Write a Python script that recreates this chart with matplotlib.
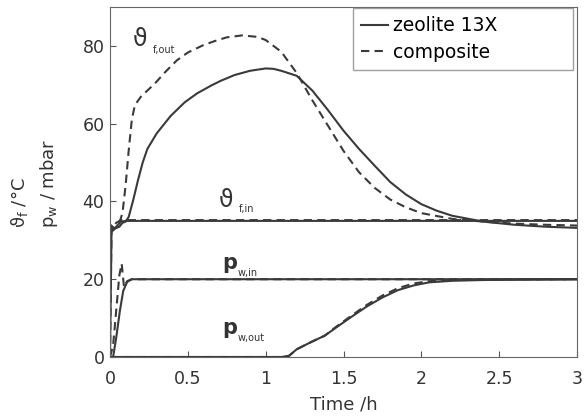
import matplotlib
matplotlib.use('Agg')
import matplotlib.pyplot as plt

plt.rcParams['font.family'] = ['DejaVu Sans']
plt.rcParams['mathtext.fontset'] = 'dejavusans'

line_col = '#3a3a3a'
txt_col = '#333333'

# zeolite 13X outlet temperature
t_out_zeo = [0, 0.03, 0.06, 0.08, 0.1, 0.12, 0.15, 0.18, 0.21, 0.24, 0.3, 0.39, 0.48, 0.56, 0.65, 0.71, 0.8, 0.9,
             1.0, 1.05, 1.1, 1.2, 1.3, 1.4, 1.5, 1.6, 1.7, 1.8, 1.9, 2.0, 2.1, 2.2, 2.4, 2.6, 2.8, 3.0]
T_out_zeo = [34, 33, 33.5, 34.5, 34.8, 36, 40.5, 45.5, 50, 53.5, 57.5, 62, 65.5, 67.8, 69.8, 71, 72.5, 73.6,
             74.2, 74.1, 73.6, 72.3, 68.5, 63.5, 58.2, 53.5, 49.2, 45, 41.8, 39.3, 37.6, 36.3, 34.8, 34, 33.5, 33.2]

# composite outlet temperature
t_out_comp = [0, 0.03, 0.06, 0.08, 0.1, 0.12, 0.14, 0.16, 0.2, 0.29, 0.36, 0.43, 0.5, 0.6, 0.67, 0.75, 0.85, 0.95,
              1.0, 1.1, 1.2, 1.3, 1.4, 1.5, 1.6, 1.7, 1.8, 1.9, 2.0, 2.2, 2.4, 2.6, 2.8, 3.0]
T_out_comp = [34, 33, 34.5, 37, 44, 53, 61, 64.8, 67, 70.4, 73.5, 76.3, 78.3, 80.2, 81.2, 82.2, 82.7, 82.3,
              81.5, 78.5, 73, 66, 59.5, 53, 47.5, 43.5, 40.5, 38.5, 37, 35.5, 34.8, 34.3, 34, 33.8]

# inlet temperature
t_in = [0, 0.01, 0.02, 0.04, 0.07, 0.1, 1.0, 2.0, 3.0]
T_in_zeo = [0, 33, 32.5, 33.5, 34.8, 35, 35, 35, 35]
T_in_comp = [0, 33.5, 33.5, 34.5, 35.2, 35.2, 35.2, 35.2, 35.2]

# inlet vapour pressure
t_pin_zeo = [0, 0.02, 0.04, 0.064, 0.085, 0.11, 0.14, 1.0, 2.0, 3.0]
p_in_zeo = [0, 0, 5, 12, 17, 19.3, 20, 20, 20, 20]
t_pin_comp = [0, 0.02, 0.04, 0.06, 0.075, 0.09, 0.11, 0.14, 1.0, 2.0, 3.0]
p_in_comp = [0, 3, 12, 21, 24, 18, 19.5, 20, 20, 20, 20]

# outlet vapour pressure
t_pout = [0, 1.1, 1.15, 1.2, 1.3, 1.38, 1.45, 1.55, 1.65, 1.75, 1.85, 1.95, 2.05, 2.2, 2.4, 3.0]
p_out_zeo = [0, 0, 0.3, 2, 4, 5.5, 7.5, 10.3, 13, 15.3, 17.2, 18.4, 19.2, 19.6, 19.8, 20]
p_out_comp = [0, 0, 0.3, 2, 4, 5.5, 7.7, 10.6, 13.4, 15.8, 17.7, 18.9, 19.5, 19.8, 19.9, 20]

fig = plt.figure(figsize=(5.84, 4.19), dpi=100)
ax = fig.add_axes([110 / 584, 62 / 419, 467 / 584, 350 / 419])

lw = 1.5
dash = (0, (4, 2.5))
ax.plot(t_out_zeo, T_out_zeo, color=line_col, lw=lw, label='zeolite 13X')
ax.plot(t_out_comp, T_out_comp, color=line_col, lw=lw, ls=dash, label='composite')
ax.plot(t_in, T_in_zeo, color=line_col, lw=lw)
ax.plot(t_in, T_in_comp, color=line_col, lw=lw, ls=dash)
ax.plot(t_pin_zeo, p_in_zeo, color=line_col, lw=lw)
ax.plot(t_pin_comp, p_in_comp, color=line_col, lw=lw, ls=dash)
ax.plot(t_pout, p_out_zeo, color=line_col, lw=lw)
ax.plot(t_pout, p_out_comp, color=line_col, lw=lw, ls=dash)


def curve_label(x, y, sym, sub, dx, dy, size=16, weight='bold'):
    ax.text(x, y, sym, fontsize=size, fontweight=weight, color=txt_col, va='baseline', ha='left')
    ax.annotate(sub, xy=(x, y), xytext=(dx, dy), textcoords='offset pixels', fontsize=7,
                color=txt_col, va='baseline', ha='left')


curve_label(0.147, 80.0, 'ϑ', 'f,out', 20, -7, size=17, weight='normal')
curve_label(0.70, 38.6, 'ϑ', 'f,in', 20, -5, size=17, weight='normal')
curve_label(0.72, 22.6, 'p', 'w,in', 16, -7, size=15)
curve_label(0.72, 6.0, 'p', 'w,out', 16, -7, size=15)

ax.set_xlim(0, 3)
ax.set_ylim(0, 90)
ax.set_xticks([0, 0.5, 1, 1.5, 2, 2.5, 3])
ax.set_xticklabels(['0', '0.5', '1', '1.5', '2', '2.5', '3'])
ax.set_yticks([0, 20, 40, 60, 80])
ax.tick_params(direction='in', labelsize=12.5, colors='#555555', labelcolor=txt_col, length=4)
ax.tick_params(axis='x', pad=9)
ax.tick_params(axis='y', pad=4)
for s in ax.spines.values():
    s.set_color('#666666')

ax.set_xlabel('Time /h', fontsize=13, color=txt_col, labelpad=6)
fig.text(34.5 / 584, 1 - 183 / 419, 'ϑ$_\\mathrm{f}$ /°C\np$_\\mathrm{w}$ / mbar', rotation=90,
         fontsize=13, color=txt_col, ha='center', va='center', multialignment='left', linespacing=1.55)

# legend box is wide in the original, text sits at the left
leg = ax.legend(loc='upper left', mode='expand', fontsize=13.5, frameon=True, fancybox=False,
                handlelength=1.4, handletextpad=0.3, borderpad=0.45, labelspacing=0.4, borderaxespad=0.0,
                bbox_to_anchor=(353 / 584, 1 - 72 / 419, 220 / 584, 64 / 419), bbox_transform=fig.transFigure)
leg.get_frame().set_edgecolor('#888888')
leg.get_frame().set_linewidth(1.0)

fig.savefig('out.png', dpi=100)
